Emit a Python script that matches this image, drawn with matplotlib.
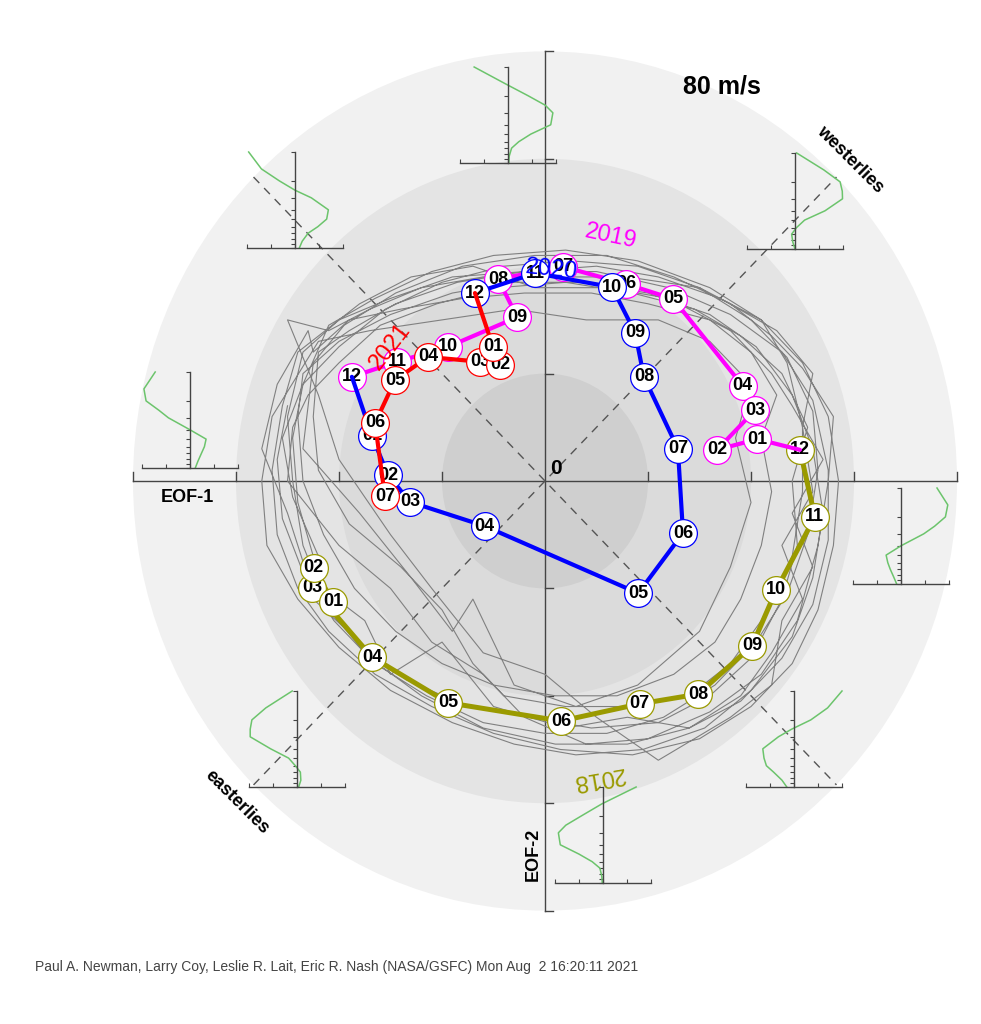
import matplotlib
matplotlib.use('Agg')
import matplotlib.pyplot as plt
from matplotlib.patches import Circle
from matplotlib.ticker import NullLocator

plt.rcParams['font.family'] = ['Liberation Sans', 'DejaVu Sans']

# ---------------- data (m/s, x = EOF-1 amplitude, y = EOF-2 amplitude) ----------------
months = ['01', '02', '03', '04', '05', '06', '07', '08', '09', '10', '11', '12']

u_2018 = [-41.2, -44.9, -45.2, -33.6, -18.8, 3.1, 18.4, 29.7, 40.2, 44.9, 52.4, 49.5]
v_2018 = [-22.5, -16.2, -19.9, -32.8, -41.3, -44.7, -41.5, -39.7, -30.7, -20.3, -6.7, 5.8]

u_2019 = [41.2, 33.4, 40.8, 38.4, 24.9, 15.7, 3.5, -9.1, -5.4, -18.8, -28.7, -37.5]
v_2019 = [7.8, 5.8, 13.2, 17.7, 33.9, 36.7, 39.9, 37.6, 30.5, 25.0, 22.2, 19.4]

u_2020 = [-33.6, -30.5, -26.2, -11.7, 18.1, 26.8, 25.8, 19.2, 17.5, 13.0, -1.9, -13.6]
v_2020 = [8.4, 1.1, -3.9, -8.4, -20.9, -9.7, 6.0, 19.4, 27.6, 36.1, 38.7, 35.0]

u_2021 = [-10.1, -8.7, -12.6, -22.7, -29.1, -33.0, -31.1]
v_2021 = [25.0, 21.6, 22.2, 23.1, 18.8, 10.8, -2.8]

# earlier years (grey history)
hist_path = [
    (-50, 14), (-52, 4), (-51, -7), (-47, -17), (-41, -26), (-33, -34), (-23, -40), (-12, -45),
    (0, -47), (12, -47), (23, -44), (33, -38), (41, -30), (47, -21), (51, -10), (53, 2), (52, 13),
    (47, 23), (40, 30), (30, 36), (18, 40), (5, 41), (-8, 40), (-20, 37), (-31, 32), (-40, 25),
    (-47, 18), (-51, 8), (-49, -3), (-44, -14), (-45, -22), (-36, -30), (-27, -37), (-15, -42),
    (-3, -44), (9, -46), (22, -45), (32, -40), (40, -33), (46, -22), (49, -12), (48, 0), (51, 10),
    (46, 20), (38, 27), (29, 32), (17, 35), (4, 37), (-9, 36), (-21, 33), (-32, 29), (-40, 22),
    (-46, 16), (-49, 10), (-50, 0), (-40, -12), (-30, -20), (-22, -30), (-12, -36), (-4, -44),
    (8, -49), (20, -48), (32, -43), (42, -36), (49, -26), (53, -12), (55, 0), (56, 12), (50, 21),
    (44, 27), (36, 33), (25, 38), (12, 42), (-2, 42), (-16, 40), (-29, 35), (-39, 29), (-45, 22),
    (-47, 6), (-36, -6), (-26, -18), (-18, -28), (-14, -22), (-6, -38), (6, -42), (18, -38),
    (30, -28), (36, -16), (40, -4), (37, 8), (40, 18), (32, 26), (22, 30), (8, 30), (-6, 32),
    (-20, 30), (-34, 28), (-44, 26),
    (-53, 12), (-55, 0), (-54, -12), (-48, -22), (-40, -31), (-30, -39), (-18, -45), (-6, -49),
    (6, -51), (19, -50), (31, -46), (40, -39), (48, -29), (52, -18), (54, -6), (52, 6), (48, 16),
    (41, 25), (32, 31), (20, 35), (7, 37), (-6, 37), (-18, 35), (-30, 31), (-40, 26), (-47, 20),
    (-48, 12), (-47, 0), (-43, -10), (-37, -20), (-29, -28), (-20, -34), (-10, -38), (2, -40),
    (14, -40), (25, -36), (33, -30), (38, -22), (42, -12), (44, -2), (42, 8), (45, 16), (40, 24),
    (32, 30), (20, 33), (9, 35), (-4, 35), (-16, 34), (-28, 32), (-38, 30), (-45, 24),
    (-46, 28), (-52, 18), (-55, 6), (-50, -6), (-46, -18), (-35, -26), (-30, -36), (-20, -30),
    (-10, -42), (4, -46), (16, -44), (28, -46), (38, -40), (44, -32), (50, -22), (46, -12),
    (52, -2), (50, 10), (52, 20), (45, 28), (34, 34), (22, 38), (10, 40), (-4, 39), (-18, 38),
    (-30, 34), (-40, 30), (-47, 24), (-50, 12), (-49, 0), (-47, -12), (-42, -24), (-34, -33),
    (-24, -40), (-12, -46), (2, -49), (16, -49), (28, -46), (38, -41), (46, -33), (52, -23),
    (55, -11), (55, 2), (52, 15), (46, 24), (36, 31), (24, 36), (10, 39), (-4, 39), (-17, 37),
    (-29, 33), (-38, 28), (-44, 24), (-45, 12), (-44, 2), (-38, -8), (-28, -16), (-20, -24),
    (-14, -34), (-8, -40), (4, -42), (16, -42), (28, -40), (36, -34), (42, -26), (48, -14),
    (50, -2), (50, 10), (47, 22), (42, 30), (30, 36), (16, 38), (2, 38), (-12, 38), (-24, 36),
    (-34, 32), (-42, 28), (-50, 30), (-44, 16), (-40, 4), (-30, -10), (-22, -20), (-12, -32),
    (0, -36), (10, -44), (22, -52), (36, -44), (44, -38), (46, -26), (52, -16), (48, -6),
    (54, 4), (48, 14), (44, 20), (36, 28), (24, 34), (12, 36), (-2, 36), (-14, 40), (-26, 38),
    (-36, 33), (-48, 24), (-51, 14), (-53, 2), (-52, -10), (-48, -20), (-42, -28),
    (-33, -36), (-22, -42), (-10, -47), (3, -50), (17, -51), (30, -48), (40, -42), (48, -34),
    (53, -24), (56, -12), (57, 0), (55, 12), (50, 22), (42, 30), (32, 36), (18, 41), (4, 43),
    (-10, 42), (-22, 39), (-33, 34), (-42, 29), (-47, 18), (-49, 8), (-48, -4), (-45, -14),
    (-42, -21),
]

# wind profile insets: EOF combination vs pressure (hPa)
p_levels = [10, 15, 20, 25, 30, 40, 50, 60, 70, 85, 100]
prof_n = [-1.41, -0.1, 0.85, 1.55, 1.87, 1.78, 0.95, 0.45, 0.15, 0.05, 0.03]
prof_ne = [0.07, 1.2, 1.88, 1.97, 1.98, 1.25, 0.4, 0.06, -0.14, -0.09, 0.0]
prof_e = [1.5, 1.95, 1.85, 1.4, 0.95, 0.0, -0.62, -0.55, -0.45, -0.3, -0.18]
prof_se = [2.0, 1.4, 0.7, -0.1, -0.65, -1.3, -1.25, -1.15, -0.85, -0.5, -0.3]
prof_s = [1.38, -0.05, -0.9, -1.55, -1.86, -1.78, -1.0, -0.45, -0.13, -0.05, -0.03]
prof_sw = [-0.2, -1.3, -1.88, -1.95, -1.95, -1.1, -0.35, -0.07, 0.14, 0.16, 0.07]
prof_w = [-1.45, -1.92, -1.83, -1.3, -0.9, 0.0, 0.67, 0.6, 0.48, 0.33, 0.22]
prof_nw = [-1.93, -1.4, -0.65, 0.0, 0.68, 1.39, 1.32, 0.95, 0.55, 0.3, 0.18]
p_ticks = [100, 90, 80, 70, 60, 50, 40, 30, 20, 10]

ring_radii = [80, 60, 40, 20]
footer = ('Paul A. Newman, Larry Coy, Leslie R. Lait, Eric R. Nash (NASA/GSFC) '
          'Mon Aug  2 16:20:11 2021')

# ---------------- figure ----------------
W, H = 981, 1024
fig = plt.figure(figsize=(W / 100, H / 100), dpi=100)
fig.patch.set_facecolor('white')
ax = fig.add_axes([0, 0, 1, 1])
ax.set_xlim(-105.83, 84.66)
ax.set_ylim(-101.12, 89.57)
ax.axis('off')

# shaded speed rings
for r, c in zip(ring_radii, ['#f1f1f1', '#e4e4e4', '#dbdbdb', '#cfcfcf']):
    ax.add_patch(Circle((0, 0), r, fc=c, ec='none', zorder=0))

# axes through the origin with ticks every 20 m/s
ax.plot([-80, 80], [0, 0], color='#444444', lw=1, zorder=1)
ax.plot([0, 0], [-80, 80], color='#444444', lw=1, zorder=1)
for t in [-80, -60, -40, -20, 20, 40, 60, 80]:
    ax.plot([t, t], [0, 1.6], color='#444444', lw=1, zorder=1)
    ax.plot([0, 1.6], [t, t], color='#444444', lw=1, zorder=1)

# diagonals
ax.plot([-56.6, 56.6], [-56.6, 56.6], color='#555555', lw=1, ls=(0, (6, 5)), zorder=1)
ax.plot([-56.6, 56.6], [56.6, -56.6], color='#555555', lw=1, ls=(0, (6, 5)), zorder=1)

# history
hu = [p[0] for p in hist_path]
hv = [p[1] for p in hist_path]
ax.plot(hu, hv, color='#808080', lw=0.8, zorder=2)

# recent years, each line starts at the previous December
years = [
    ('2018', u_2018, v_2018, '#9a9a00', 3.6, None),
    ('2019', u_2019, v_2019, '#ff00ff', 3.0, (u_2018[-1], v_2018[-1])),
    ('2020', u_2020, v_2020, '#0000ff', 3.0, (u_2019[-1], v_2019[-1])),
    ('2021', u_2021, v_2021, '#ff0000', 3.0, (u_2020[-1], v_2020[-1])),
]
year_text = {
    '2018': (10.3, -55.3, 190),
    '2019': (12.8, 45.6, -12),
    '2020': (1.2, 39.3, -6),
    '2021': (-30.1, 25.0, 52),
}
for name, us, vs, col, lw, start in years:
    lu, lv = list(us), list(vs)
    if start is not None:
        lu = [start[0]] + lu
        lv = [start[1]] + lv
    ax.plot(lu, lv, color=col, lw=lw, zorder=3, solid_capstyle='round')
    for i in range(len(us) - 1, -1, -1):
        ax.plot([us[i]], [vs[i]], 'o', ms=20, mfc='white', mec=col, mew=0.9, zorder=3)
        ax.text(us[i], vs[i], months[i], ha='center', va='center', fontsize=13,
                fontweight='bold', color='black', zorder=3)
    tx, ty, rot = year_text[name]
    ax.text(tx, ty, name, color=col, fontsize=17, rotation=rot, rotation_mode='anchor',
            ha='center', va='center', zorder=3)

# labels
ax.text(34.4, 73.4, '80 m/s', fontsize=18, fontweight='bold', ha='center', va='center')
ax.text(59.2, 59.8, 'westerlies', fontsize=13, fontweight='bold', rotation=-45,
        rotation_mode='anchor', ha='center', va='center')
ax.text(-59.8, -59.8, 'easterlies', fontsize=13, fontweight='bold', rotation=-45,
        rotation_mode='anchor', ha='center', va='center')
ax.text(-69.5, -3.0, 'EOF-1', fontsize=13, fontweight='bold', ha='center', va='center')
ax.text(-2.3, -69.6, 'EOF-2', fontsize=13, fontweight='bold', rotation=90,
        ha='center', va='center')
ax.text(2.1, 2.4, '0', fontsize=15, fontweight='bold', ha='center', va='center', zorder=4)

fig.text(35 / W, 1 - 967 / H, footer, fontsize=10, color='#444444', va='center')

# small profile insets (centre of vertical axis, bottom line) in pixels
insets = [
    (508, 163, prof_n), (795, 249, prof_ne), (901, 584, prof_e), (794, 787, prof_se),
    (603, 883, prof_s), (297, 787, prof_sw), (190, 468, prof_w), (295, 248, prof_nw),
]
for cx, by, prof in insets:
    a = fig.add_axes([(cx - 48) / W, 1 - by / H, 96 / W, 96 / H])
    a.patch.set_alpha(0)
    a.set_yscale('log')
    a.set_xlim(-2, 2)
    a.set_ylim(100, 10)
    a.plot(prof, p_levels, color='#6cc46c', lw=1.1, clip_on=False)
    a.spines['left'].set_position(('data', 0))
    a.spines['right'].set_visible(False)
    a.spines['top'].set_visible(False)
    for s in ['left', 'bottom']:
        a.spines[s].set_color('#444444')
        a.spines[s].set_linewidth(1)
    a.set_yticks(p_ticks)
    a.yaxis.set_minor_locator(NullLocator())
    a.set_xticks([-2, -1, 0, 1, 2])
    a.tick_params(axis='y', direction='out', length=3, width=0.8, color='#444444',
                  labelleft=False)
    a.tick_params(axis='x', direction='in', length=3, width=0.8, color='#444444',
                  labelbottom=False)

plt.savefig('out.png', dpi=100)
